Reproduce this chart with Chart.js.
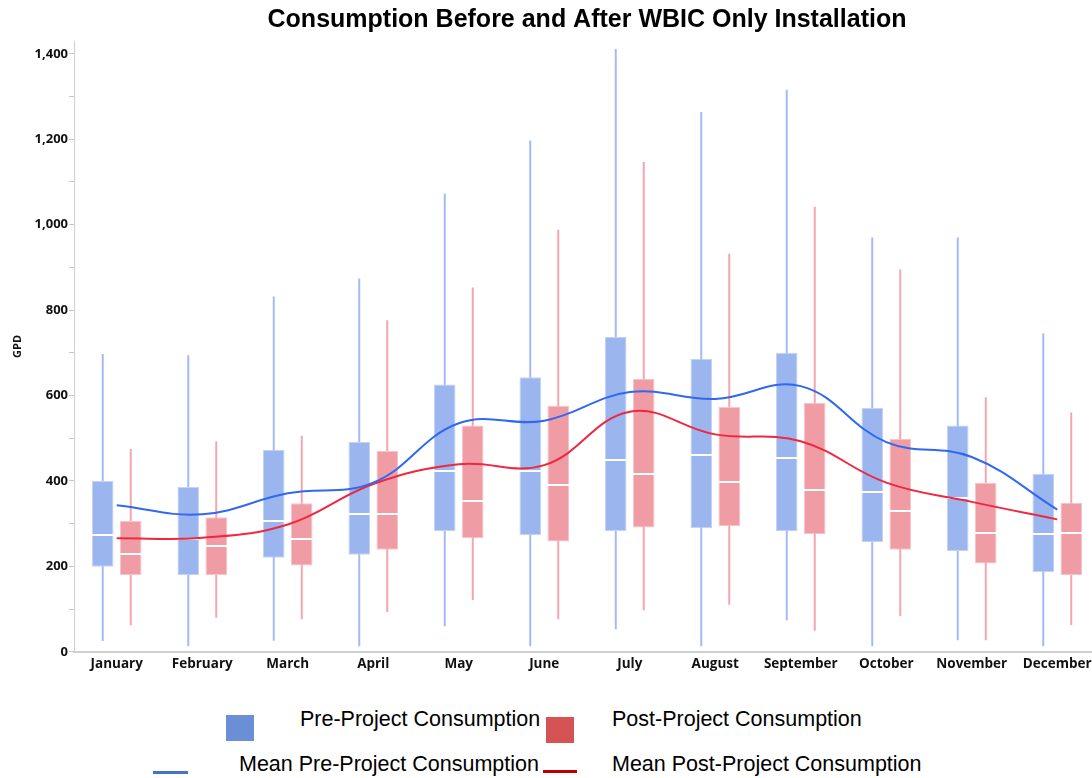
<!DOCTYPE html>
<html>
<head>
<meta charset="utf-8">
<script src="https://cdn.jsdelivr.net/npm/chart.js@4.4.1/dist/chart.umd.min.js"></script>
<style>
  body { margin: 0; background: #fff; overflow: hidden; }
  #wrap { position: relative; width: 1092px; height: 778px; overflow: hidden; }
  #chart { position: absolute; left: 0; top: 0; }
  .sw { position: absolute; }
  .lg { position: absolute; font-family: "Liberation Sans", Arial, sans-serif; font-size: 21.5px; line-height: 21.5px; color: #000; white-space: nowrap; }
</style>
</head>
<body>
<div id="wrap">
  <canvas id="chart" width="1100" height="685"></canvas>
  <div class="sw" style="left:226px;top:715px;width:28px;height:26px;background:#6a8fd4"></div>
  <div class="lg" style="left:300px;top:709px">Pre-Project Consumption</div>
  <div class="sw" style="left:546px;top:717px;width:28px;height:26px;background:#d65355"></div>
  <div class="lg" style="left:612px;top:709px">Post-Project Consumption</div>
  <div class="sw" style="left:153px;top:771px;width:35px;height:3px;background:#4472c4"></div>
  <div class="lg" style="left:239px;top:754px">Mean Pre-Project Consumption</div>
  <div class="sw" style="left:543px;top:770px;width:34px;height:3px;background:#c00000"></div>
  <div class="lg" style="left:612px;top:754px">Mean Post-Project Consumption</div>
</div>
<script>
const meses = ["January", "February", "March", "April", "May", "June", "July", "August", "September", "October", "November", "December"];

// pre-project boxes (GPD)
const preMin = [25, 13, 26, 13, 60, 13, 53, 13, 74, 13, 27, 13];
const preQ1 = [199, 180, 220, 227, 283, 273, 283, 289, 282, 257, 236, 186];
const preMedian = [273, 263, 306, 322, 423, 423, 449, 461, 453, 374, 361, 275];
const preQ3 = [400, 386, 473, 491, 626, 643, 737, 686, 700, 571, 530, 417];
const preMax = [697, 694, 832, 874, 1073, 1197, 1411, 1264, 1316, 970, 970, 746];

// post-project boxes (GPD)
const postMin = [62, 80, 76, 93, 121, 76, 97, 110, 49, 83, 27, 63];
const postQ1 = [180, 180, 202, 239, 266, 258, 291, 294, 275, 239, 207, 180];
const postMedian = [228, 248, 263, 322, 354, 390, 417, 397, 379, 330, 279, 279];
const postQ3 = [306, 315, 348, 470, 530, 576, 639, 573, 583, 499, 395, 349];
const postMax = [475, 493, 506, 776, 853, 988, 1147, 932, 1042, 895, 596, 560];

// means
const meanPre = [343, 322, 371, 396, 535, 541, 608, 592, 622, 491, 456, 333];
const meanPost = [266, 267, 298, 393, 439, 437, 562, 509, 493, 396, 351, 310];

const fuenteEje = "'Open Sans', 'DejaVu Sans', sans-serif";
const catPct = 0.655;

// white median line drawn right after each box dataset
const lineasMediana = {
  id: 'lineasMediana',
  afterDatasetDraw(chart, args) {
    const ds = chart.data.datasets[args.index];
    if (!ds.medianas) return;
    const ctx = chart.ctx;
    const escalaY = chart.scales.y;
    ctx.save();
    ctx.strokeStyle = '#ffffff';
    ctx.lineWidth = 2;
    args.meta.data.forEach((bar, i) => {
      const py = Math.round(escalaY.getPixelForValue(ds.medianas[i]));
      ctx.beginPath();
      ctx.moveTo(bar.x - bar.width / 2, py);
      ctx.lineTo(bar.x + bar.width / 2, py);
      ctx.stroke();
    });
    ctx.restore();
  }
};

const datos = {
  labels: meses,
  datasets: [
    {
      type: 'bar', label: 'Pre-Project Consumption', stack: 'pre', order: 1,
      data: preQ1.map((q, i) => [q, preQ3[i]]),
      medianas: preMedian,
      backgroundColor: '#9bb5ee', borderColor: '#c4d3f5', borderWidth: 1, borderSkipped: false,
      categoryPercentage: catPct, barPercentage: 0.77
    },
    {
      type: 'bar', label: 'Post-Project Consumption', stack: 'post', order: 1,
      data: postQ1.map((q, i) => [q, postQ3[i]]),
      medianas: postMedian,
      backgroundColor: '#f09ca5', borderColor: '#f6c4c9', borderWidth: 1, borderSkipped: false,
      categoryPercentage: catPct, barPercentage: 0.77
    },
    {
      type: 'bar', label: 'pre whisker', stack: 'pre', order: 2,
      data: preMin.map((m, i) => [m, preMax[i]]),
      backgroundColor: '#a3bbf4', borderWidth: 0,
      categoryPercentage: catPct, barPercentage: 1, maxBarThickness: 2
    },
    {
      type: 'bar', label: 'post whisker', stack: 'post', order: 2,
      data: postMin.map((m, i) => [m, postMax[i]]),
      backgroundColor: '#f5a5ae', borderWidth: 0,
      categoryPercentage: catPct, barPercentage: 1, maxBarThickness: 2
    },
    {
      type: 'line', label: 'Mean Pre-Project Consumption', order: 0,
      data: meanPre, borderColor: '#3068f2', borderWidth: 2,
      pointRadius: 0, tension: 0.4, fill: false
    },
    {
      type: 'line', label: 'Mean Post-Project Consumption', order: 0,
      data: meanPost, borderColor: '#ef2840', borderWidth: 2,
      pointRadius: 0, tension: 0.4, fill: false
    }
  ]
};

const config = {
  type: 'bar',
  data: datos,
  plugins: [lineasMediana],
  options: {
    responsive: false,
    animation: false,
    devicePixelRatio: 1,
    layout: { padding: { left: 0, right: 0, top: 0, bottom: 9 } },
    plugins: {
      legend: { display: false },
      tooltip: { enabled: false },
      title: {
        display: true,
        fullSize: false,
        text: 'Consumption Before and After WBIC Only Installation',
        color: '#000',
        font: { family: "'Liberation Sans', Arial, sans-serif", size: 25, weight: 'bold' },
        padding: { top: 5, bottom: 6 }
      }
    },
    scales: {
      x: {
        grid: { display: false, drawTicks: false },
        border: { display: true, color: '#cfcfcf', width: 2 },
        ticks: {
          color: '#111',
          font: { family: fuenteEje, size: 13.5, weight: 'bold' },
          padding: 4,
          maxRotation: 0,
          autoSkip: false
        }
      },
      y: {
        stacked: false,
        min: 0,
        max: 1430,
        afterFit: (escala) => { escala.width = 74; },
        grid: { drawOnChartArea: false, drawTicks: true, tickLength: 5, color: '#c8c8c8' },
        border: { display: true, color: '#cfcfcf', width: 1 },
        ticks: {
          stepSize: 100,
          includeBounds: false,
          autoSkip: false,
          padding: 1,
          color: '#111',
          font: { family: fuenteEje, size: 13, weight: 'bold' },
          callback: (v) => (v % 200 === 0 ? v.toLocaleString('en-US') : '')
        },
        title: {
          display: true,
          text: 'GPD',
          color: '#111',
          font: { family: fuenteEje, size: 11, weight: 'bold' },
          padding: { top: 11, bottom: 0 }
        }
      }
    }
  }
};

const lienzo = document.getElementById('chart');
let grafico = new Chart(lienzo, config);
</script>
</body>
</html>
